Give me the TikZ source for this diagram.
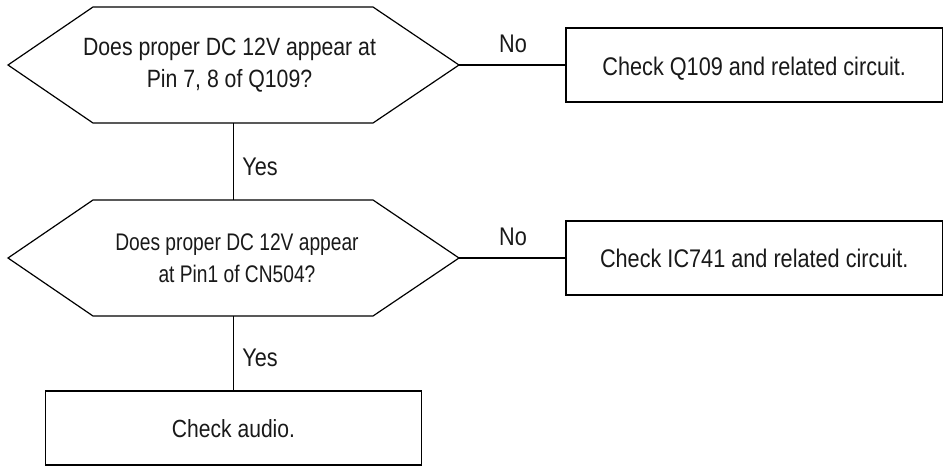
\documentclass[tikz,border=0pt]{standalone}
\usepackage{fontspec}
\setmainfont[FakeStretch=0.85]{Liberation Sans}
\newfontfamily\narrowface[FakeStretch=0.8]{Liberation Sans}
\usetikzlibrary{calc}
\newcommand{\hexoutline}[1]{\draw[conn] ($(#1.north west)+(85,0)$) -- ($(#1.north east)+(-86,0)$) -- (#1.east) -- ($(#1.south east)+(-86,0)$) -- ($(#1.south west)+(85,0)$) -- (#1.west) -- cycle;}
\tikzset{
  x=1pt,y=-1pt,
  every node/.style={inner sep=0pt,outer sep=0pt,font=\fontsize{25.5}{32}\selectfont,text=black!90},
  hexframe/.style={rectangle,minimum width=451pt,minimum height=116pt},
  hextext/.style={align=center},
  rectbox/.style={draw,rectangle,minimum width=376.5pt,minimum height=74pt,align=center,line width=1.2pt,text height=18pt,text depth=0pt},
  conn/.style={line width=1.2pt},
  lbl/.style={anchor=base}
}
\begin{document}
\begin{tikzpicture}
\useasboundingbox (0,0) rectangle (943,466);
\node[hexframe] (q1) at (233.5,65) {};
\node[hexframe] (q2) at (233.5,258) {};
\node[hextext,font=\fontsize{25}{32}\selectfont] (q1text) at (229.5,65) {Does proper DC 12V appear at\\Pin 7, 8 of Q109?};
\node[hextext,font=\narrowface\fontsize{24}{32}\selectfont] (q2text) at (237,258.5) {Does proper DC 12V appear\\at Pin1 of CN504?};
\node[rectbox] (a1) at (754.25,65) {\raisebox{-1pt}{Check Q109 and related circuit.}};
\node[rectbox] (a2) at (754.25,258) {Check IC741 and related circuit.};
\node[rectbox,font=\fontsize{24.8}{32}\selectfont] (a3) at (233.5,428) {Check audio.};
\hexoutline{q1}
\hexoutline{q2}
\draw[conn] (q1.east) -- (a1.west);
\draw[conn] (q2.east) -- (a2.west);
\draw[conn] (q1.south) -- (q2.north);
\draw[conn] (q2.south) -- (a3.north);
\node[lbl] (no1) at (513,52) {No};
\node[lbl] (no2) at (513,245) {No};
\node[lbl] (yes1) at (260,175) {Yes};
\node[lbl] (yes2) at (260,366.5) {Yes};
\end{tikzpicture}
\end{document}
